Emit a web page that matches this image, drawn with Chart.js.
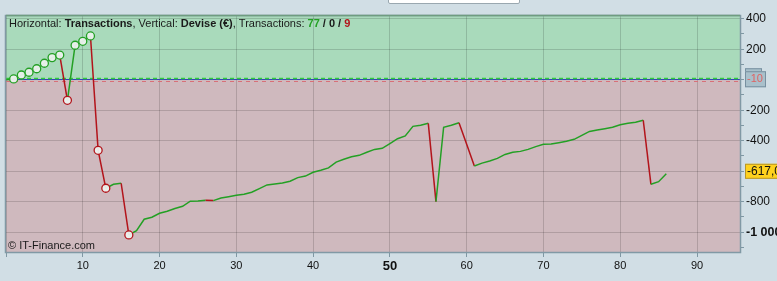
<!DOCTYPE html>
<html>
<head>
<meta charset="utf-8">
<script src="https://cdn.jsdelivr.net/npm/chart.js@4.4.1/dist/chart.umd.min.js"></script>
<style>
  html, body { margin: 0; padding: 0; background: #d1dee5; overflow: hidden; }
  #wrap { position: relative; width: 777px; height: 281px; }
  #tab { position: absolute; left: 388px; top: -3px; width: 130px; height: 5px; background: #fff; border: 1px solid #9aa8b0; border-radius: 2px; }
</style>
</head>
<body>
<div id="wrap">
  <canvas id="equity" width="777" height="281"></canvas>
  <div id="tab"></div>
</div>
<script>
// numéro de transaction (0 = départ)
var trades = [];
for (var t = 0; t <= 86; t++) trades.push(t);

// solde cumulé (€) après chaque transaction
var balance = [
  0,
  5, 31, 49, 72, 108, 145, 162, -135, 226, 252,
  287, -463, -712, -686, -679, -1018, -990, -915, -902, -876,
  -863, -845, -830, -797, -795, -791, -793, -776, -767, -758,
  -751, -738, -714, -690, -684, -677, -666, -642, -632, -607,
  -594, -578, -540, -522, -505, -496, -476, -457, -450, -419,
  -387, -369, -306, -299, -286, -800, -312, -299, -282, -424,
  -566, -547, -533, -516, -490, -476, -470, -457, -439, -424,
  -422, -413, -404, -391, -365, -339, -330, -321, -312, -295,
  -286, -279, -266, -686, -669, -617
];

// transactions marquées d'un cercle
var marked = [1, 2, 3, 4, 5, 6, 7, 8, 9, 10, 11, 12, 13, 16];

var xTicks = [0, 10, 20, 30, 40, 50, 60, 70, 80, 90];
var yTicks = [400, 300, 200, 100, 0, -100, -200, -300, -400, -500, -600, -700, -800, -900, -1000, -1100];

var upperLevel = 8.5;   // ligne pointillée verte
var baseLevel = 2;      // ligne bleue
var breakEven = -10;    // ligne pointillée rouge + étiquette
var yMin = -1130, yMax = 418;
var xMin = 0, xMax = 95.6;

var GREEN = '#23a024';
var RED = '#b3141b';
var FONT = '"Liberation Sans", Arial, sans-serif';

var wins = 0, losses = 0, flat = 0;
for (var i = 1; i < balance.length; i++) {
  if (balance[i] > balance[i - 1]) wins++;
  else if (balance[i] < balance[i - 1]) losses++;
  else flat++;
}

function fmt(v) {
  var s = String(Math.abs(v));
  if (s.length > 3) s = s.slice(0, s.length - 3) + ' ' + s.slice(-3);
  return (v < 0 ? '-' : '') + s;
}

function isDown(idx) {
  return idx > 0 && balance[idx] < balance[idx - 1];
}

var points = trades.map(function (n, idx) { return { x: n, y: balance[idx] }; });

function hLine(ctx, a, yPix) {
  var yy = Math.floor(yPix) + 0.5;
  ctx.beginPath(); ctx.moveTo(a.left, yy); ctx.lineTo(a.right, yy); ctx.stroke();
}

var decor = {
  id: 'decor',
  beforeDraw: function (chart) {
    var ctx = chart.ctx, a = chart.chartArea, y = chart.scales.y;
    var y0 = y.getPixelForValue(0);
    ctx.save();
    ctx.fillStyle = '#d1dee5';
    ctx.fillRect(0, 0, chart.width, chart.height);
    ctx.fillStyle = '#a9dabb';
    ctx.fillRect(a.left, a.top, a.right - a.left, y0 - a.top);
    ctx.fillStyle = '#cfb9be';
    ctx.fillRect(a.left, y0, a.right - a.left, a.bottom - y0);
    ctx.restore();
  },
  beforeDatasetsDraw: function (chart) {
    var ctx = chart.ctx, a = chart.chartArea, y = chart.scales.y;
    ctx.save();
    ctx.lineWidth = 1;
    ctx.strokeStyle = '#3344b8';
    hLine(ctx, a, y.getPixelForValue(baseLevel));
    ctx.setLineDash([4, 4]);
    ctx.strokeStyle = '#d87079';
    hLine(ctx, a, y.getPixelForValue(breakEven));
    ctx.setLineDash([4, 3]);
    ctx.lineWidth = 1.6;
    ctx.strokeStyle = '#30cc3c';
    hLine(ctx, a, y.getPixelForValue(upperLevel));
    ctx.restore();
  },
  afterDraw: function (chart) {
    var ctx = chart.ctx, a = chart.chartArea, y = chart.scales.y;
    ctx.save();
    // cadre
    ctx.lineWidth = 1.5;
    ctx.strokeStyle = '#8199a5';
    ctx.strokeRect(a.left - 0.5, a.top - 0.5, a.right - a.left + 1, a.bottom - a.top + 1);
    ctx.strokeStyle = '#6f9c80';
    ctx.beginPath(); ctx.moveTo(a.left, a.top - 0.5); ctx.lineTo(a.right, a.top - 0.5); ctx.stroke();

    // titre
    var parts = [
      ['Horizontal: ', 'normal', '#1a1a1a'],
      ['Transactions', 'bold', '#1a1a1a'],
      [', Vertical: ', 'normal', '#1a1a1a'],
      ['Devise (\u20ac)', 'bold', '#1a1a1a'],
      [', Transactions: ', 'normal', '#1a1a1a'],
      [String(wins), 'bold', GREEN],
      [' / ' + flat + ' / ', 'bold', '#1a1a1a'],
      [String(losses), 'bold', RED]
    ];
    var tx = a.left + 3;
    ctx.textBaseline = 'middle';
    ctx.textAlign = 'left';
    parts.forEach(function (p) {
      ctx.font = p[1] + ' 11px ' + FONT;
      ctx.fillStyle = p[2];
      ctx.fillText(p[0], tx, a.top + 8);
      tx += ctx.measureText(p[0]).width;
    });

    // copyright
    ctx.font = '11px ' + FONT;
    ctx.fillStyle = '#1a1a1a';
    ctx.fillText('\u00a9 IT-Finance.com', a.left + 2, a.bottom - 6);

    // étiquette seuil
    var yp = y.getPixelForValue(breakEven);
    var bx = a.right + 5;
    ctx.fillStyle = '#a9c0cb';
    ctx.strokeStyle = '#7890a0';
    ctx.lineWidth = 1;
    ctx.fillRect(bx, yp - 13, 17, 4);
    ctx.strokeRect(bx + 0.5, yp - 12.5, 16, 3);
    ctx.fillRect(bx, yp - 10, 21, 16);
    ctx.strokeRect(bx + 0.5, yp - 9.5, 20, 15);
    ctx.font = '11px ' + FONT;
    ctx.fillStyle = '#e06262';
    ctx.fillText(String(breakEven), bx + 2, yp - 2);

    // étiquette dernière valeur
    var last = balance[balance.length - 1];
    var ly = y.getPixelForValue(last);
    ctx.fillStyle = '#ffd21e';
    ctx.strokeStyle = '#b8962a';
    ctx.fillRect(bx + 0.5, ly - 10, 40, 15);
    ctx.strokeRect(bx + 0.5, ly - 9.5, 40, 14);
    ctx.font = '12px ' + FONT;
    ctx.fillStyle = '#111';
    ctx.fillText(last.toFixed(1).replace('.', ','), bx + 2, ly - 2.5);
    ctx.restore();
  }
};

new Chart(document.getElementById('equity'), {
  type: 'line',
  data: {
    datasets: [{
      data: points,
      borderColor: GREEN,
      borderWidth: 1.5,
      tension: 0,
      fill: false,
      pointRadius: function (c) { return marked.indexOf(trades[c.dataIndex]) >= 0 ? 4 : 0; },
      pointBorderWidth: 1.3,
      pointBorderColor: function (c) { return isDown(c.dataIndex) ? RED : GREEN; },
      pointBackgroundColor: 'rgba(236,241,238,0.95)',
      segment: {
        borderColor: function (c) { return c.p1.parsed.y < c.p0.parsed.y ? RED : GREEN; }
      }
    }]
  },
  options: {
    responsive: false,
    animation: false,
    events: [],
    layout: { padding: { left: 6, top: 16, right: 0, bottom: 0 } },
    plugins: { legend: { display: false }, tooltip: { enabled: false } },
    scales: {
      x: {
        type: 'linear',
        min: xMin,
        max: xMax,
        afterBuildTicks: function (s) { s.ticks = xTicks.map(function (v) { return { value: v }; }); },
        afterFit: function (s) { s.height = 29; },
        border: { display: false },
        grid: { color: 'rgba(0,0,0,0.15)', tickColor: '#7f97a3', tickLength: 5 },
        ticks: {
          autoSkip: false,
          maxRotation: 0,
          padding: 2,
          color: '#111',
          callback: function (v) { return v === 0 ? '' : String(v); },
          font: function (c) {
            var big = c.tick && c.tick.value === 50;
            return { family: FONT, size: big ? 13 : 11, weight: big ? 'bold' : 'normal' };
          }
        }
      },
      y: {
        position: 'right',
        min: yMin,
        max: yMax,
        afterBuildTicks: function (s) { s.ticks = yTicks.map(function (v) { return { value: v }; }); },
        afterFit: function (s) { s.width = 37; },
        border: { display: false },
        grid: {
          color: function (c) {
            var v = c.tick ? c.tick.value : 1;
            return (v % 200 === 0 && v !== 0) ? 'rgba(0,0,0,0.15)' : 'rgba(0,0,0,0)';
          },
          tickColor: '#7f97a3',
          tickLength: 4
        },
        ticks: {
          autoSkip: false,
          padding: 2,
          color: '#111',
          callback: function (v) { return (v % 200 === 0 && v !== 0) ? fmt(v) : ''; },
          font: function (c) {
            var big = c.tick && c.tick.value === -1000;
            return { family: FONT, size: big ? 12.5 : 12, weight: big ? 'bold' : 'normal' };
          }
        }
      }
    }
  },
  plugins: [decor]
});
</script>
</body>
</html>
